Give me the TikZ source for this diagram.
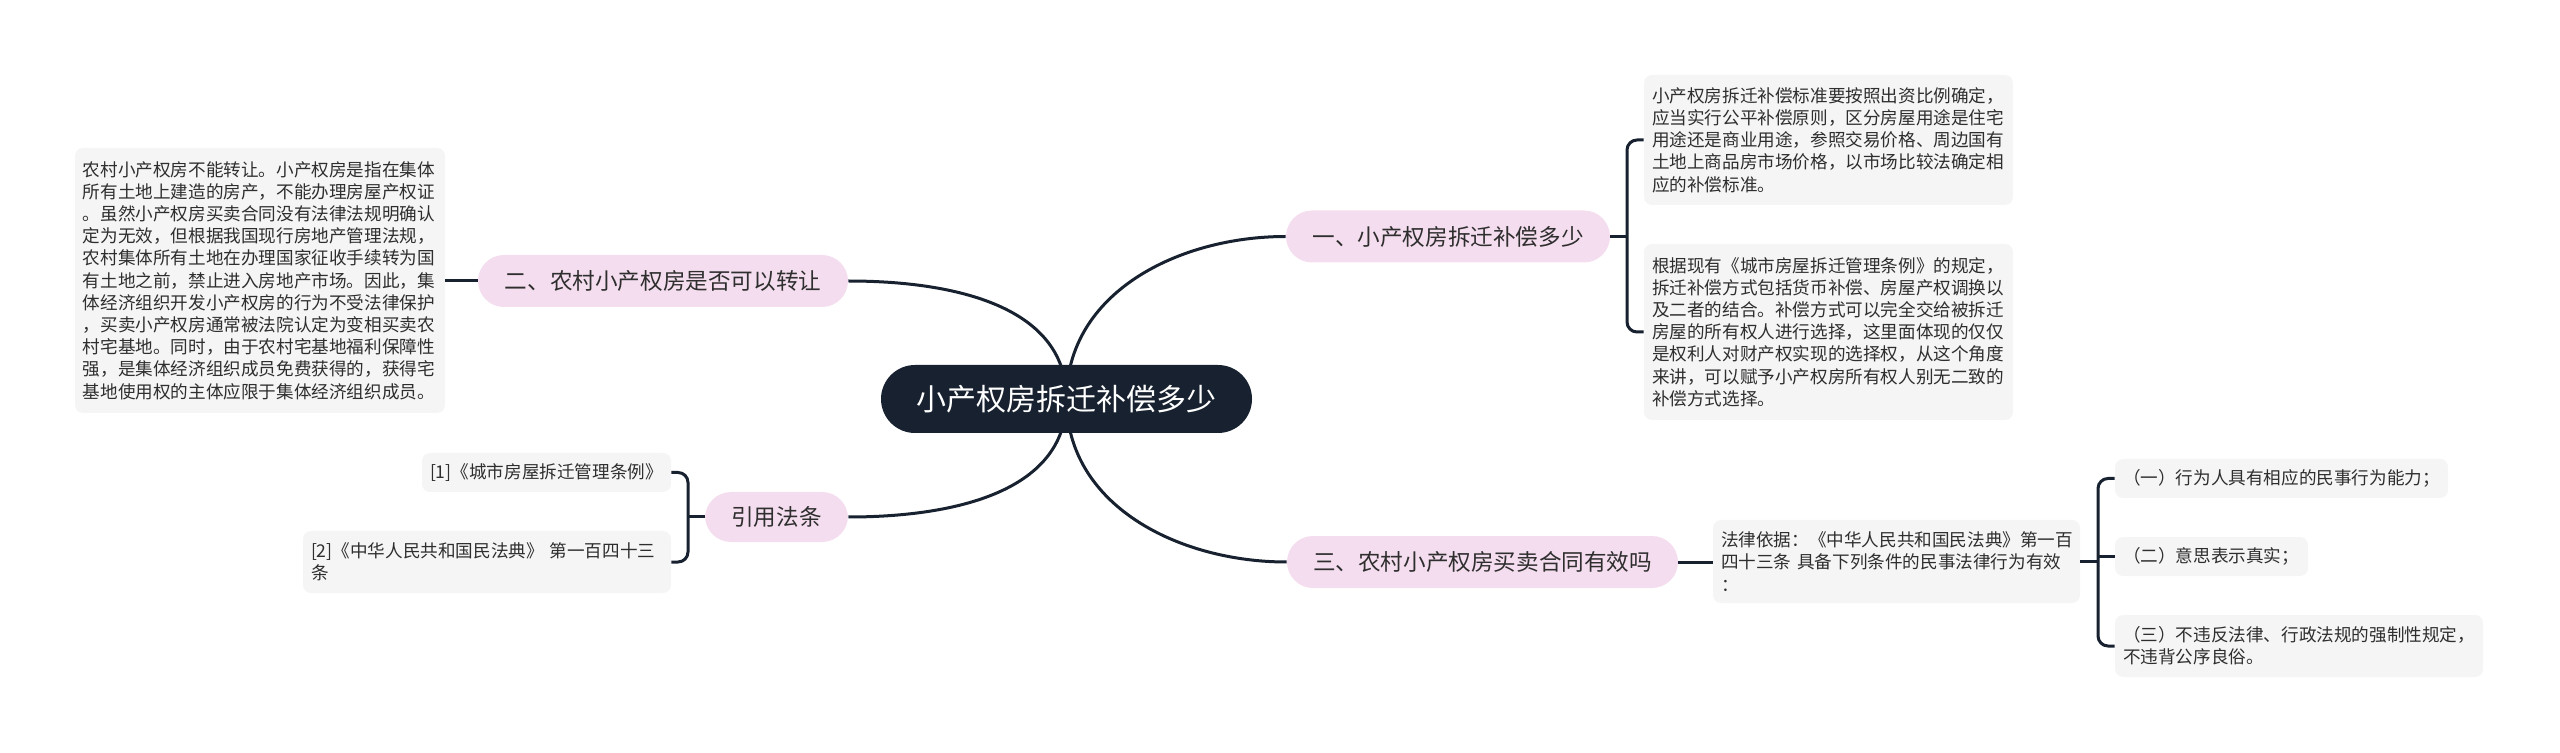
\documentclass[tikz,border=0pt]{standalone}
\usepackage{fontspec}
\setmainfont{Noto Sans CJK SC}
\usepackage{xcolor}
\usepackage{tikz}
\usetikzlibrary{positioning,calc}
\definecolor{mNavy}{HTML}{17212F}
\definecolor{mPink}{HTML}{F4DDEE}
\definecolor{mGrey}{HTML}{F5F5F5}
\definecolor{mInk}{HTML}{2E2E2E}
\pgfdeclarelayer{background}
\pgfsetlayers{background,main}

\begin{document}
\begin{tikzpicture}[x=0.5pt,y=0.5pt,
  rootbox/.style={fill=mNavy, text=white, rounded corners=17pt, font=\fontsize{15pt}{18pt}\selectfont, minimum width=185.5pt, minimum height=34pt, inner sep=0pt},
  topic/.style={fill=mPink, text=mInk, rounded corners=13pt, font=\fontsize{11.3pt}{14pt}\selectfont, minimum height=26pt, inner sep=0pt},
  note/.style={fill=mGrey, text=mInk, rounded corners=4pt, font=\fontsize{8.8pt}{11.1pt}\selectfont, align=left, inner xsep=4pt, inner ysep=0pt},
  link/.style={draw=mNavy, line width=1.5pt}]
\useasboundingbox (0,0) rectangle (2560,-753);
\node[rootbox] (root) at (1066.5,-399) {小产权房拆迁补偿多少};
\node[topic, minimum width=162pt] (b1) at (1448,-236.5) {一、小产权房拆迁补偿多少};
\node[topic, minimum width=185pt] (b2) at (663,-281) {二、农村小产权房是否可以转让};
\node[topic, minimum width=195.5pt] (b3) at (1482.5,-562) {三、农村小产权房买卖合同有效吗};
\node[topic, minimum width=71.5pt, minimum height=25pt] (b4) at (776.5,-517) {引用法条};
% notes
\node[note, text width=177pt, minimum height=132.5pt] (lbox) at (260,-280.5) {农村小产权房不能转让。小产权房是指在集体\\所有土地上建造的房产，不能办理房屋产权证\\。虽然小产权房买卖合同没有法律法规明确认\\定为无效，但根据我国现行房地产管理法规，\\农村集体所有土地在办理国家征收手续转为国\\有土地之前，禁止进入房地产市场。因此，集\\体经济组织开发小产权房的行为不受法律保护\\，买卖小产权房通常被法院认定为变相买卖农\\村宅基地。同时，由于农村宅基地福利保障性\\强，是集体经济组织成员免费获得的，获得宅\\基地使用权的主体应限于集体经济组织成员。};
\node[note, text width=176.5pt, minimum height=65pt] (r1) at (1828.5,-140) {小产权房拆迁补偿标准要按照出资比例确定，\\应当实行公平补偿原则，区分房屋用途是住宅\\用途还是商业用途，参照交易价格、周边国有\\土地上商品房市场价格，以市场比较法确定相\\应的补偿标准。};
\node[note, text width=176.5pt, minimum height=88pt] (r2) at (1828.5,-332) {根据现有《城市房屋拆迁管理条例》的规定，\\拆迁补偿方式包括货币补偿、房屋产权调换以\\及二者的结合。补偿方式可以完全交给被拆迁\\房屋的所有权人进行选择，这里面体现的仅仅\\是权利人对财产权实现的选择权，从这个角度\\来讲，可以赋予小产权房所有权人别无二致的\\补偿方式选择。};
\node[note, text width=175.5pt, minimum height=41.5pt] (law) at (1896.5,-561.5) {法律依据：《中华人民共和国民法典》第一百\\四十三条~具备下列条件的民事法律行为有效\\：};
\node[note, text width=158.5pt, minimum height=19.5pt] (i1) at (2281.5,-478.5) {（一）行为人具有相应的民事行为能力；};
\node[note, text width=88.5pt, minimum height=19.5pt] (i2) at (2211.5,-556.5) {（二）意思表示真实；};
\node[note, text width=176pt, minimum height=31pt] (i3) at (2299,-646) {（三）不违反法律、行政法规的强制性规定，\\不违背公序良俗。};
\node[note, text width=116.5pt, minimum height=19.5pt] (c1) at (546.5,-472.5) {[1]《城市房屋拆迁管理条例》};
\node[note, text width=176pt, minimum height=31pt] (c2) at (487,-562) {[2]《中华人民共和国民法典》~第一百四十三\\条};
% brackets
\coordinate (k1) at (1627,-236.5);
\coordinate (k2) at (688,-517);
\coordinate (k3) at (2098,-561.5);
\begin{pgfonlayer}{background}
\draw[link] (root.center) to[out=90,in=180] (b1.west);
\draw[link] (root.center) to[out=90,in=0] (b2.east);
\draw[link] (root.center) to[out=-90,in=180] (b3.west);
\draw[link] (root.center) to[out=-90,in=0] (b4.east);
\end{pgfonlayer}
\draw[link] (b1.east) -- (k1);
\draw[link, rounded corners=5pt] (r1.west) -| (k1) |- (r2.west);
\draw[link] (b2.west) -- (b2.west -| lbox.east);
\draw[link] (b4.west) -- (k2);
\draw[link, rounded corners=5pt] (c1.east) -| (k2) |- (c2.east);
\draw[link] (b3.east) -- (b3.east -| law.west);
\draw[link] (law.east) -- (k3);
\draw[link, rounded corners=5pt] (i1.west) -| (k3) |- (i3.west);
\draw[link] (k3 |- i2.west) -- (i2.west);
\end{tikzpicture}
\end{document}
